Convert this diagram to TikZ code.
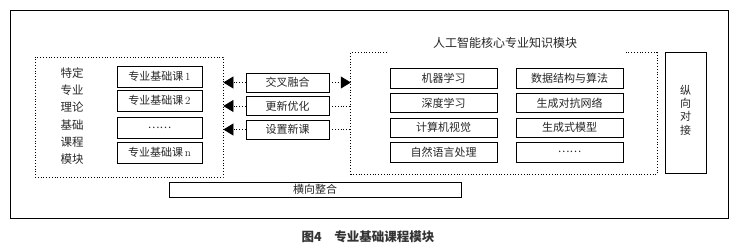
\documentclass[tikz,border=0pt]{standalone}
\usepackage{fontspec}
\newfontfamily\cjk{Noto Sans CJK SC}
\usetikzlibrary{arrows.meta}
\begin{document}
\begin{tikzpicture}[x=1pt,y=-1pt,
  box/.style={draw=black,line width=0.7pt,inner sep=0pt,font=\cjk\fontsize{11}{12}\selectfont,text=black!85},
  dotbox/.style={draw=black,dotted,line width=0.8pt,inner sep=0pt},
  lbl/.style={inner sep=0pt,text=black!85},
  conn/.style={dotted,line width=0.8pt},
  tip/.style={-{Triangle[length=10pt,width=12pt]}}]
\useasboundingbox (0,0) rectangle (736,249);
% outer frame
\node[draw=black,line width=0.8pt,minimum width=718,minimum height=208,inner sep=0pt] (frame) at (369,114) {};
% left module
\node[dotbox,minimum width=188,minimum height=120] (lbox) at (129,117) {};
\node[lbl,align=center,font=\cjk\fontsize{11.5}{17.2}\selectfont] (ltext) at (72,116) {特定\\专业\\理论\\基础\\课程\\模块};
\node[box,minimum width=85,minimum height=21] (c1) at (159.5,76.5) {专业基础课\,\rmfamily 1};
\node[box,minimum width=85,minimum height=21] (c2) at (159.5,100.5) {专业基础课\,\rmfamily 2};
\node[box,minimum width=85,minimum height=21] (c3) at (159.5,127.5) {……};
\node[box,minimum width=85,minimum height=21] (c4) at (159.5,152.5) {专业基础课\,\rmfamily n};
% middle
\node[box,minimum width=83,minimum height=19] (m1) at (287.5,82.5) {交叉融合};
\node[box,minimum width=83,minimum height=19] (m2) at (287.5,106) {更新优化};
\node[box,minimum width=83,minimum height=19] (m3) at (287.5,129.5) {设置新课};
% right module
\node[inner sep=0pt,minimum width=306,minimum height=121] (rbox) at (504,113.5) {};
\draw[conn] ([xshift=36]rbox.north west) -- (rbox.north west) -- (rbox.south west) -- (rbox.south east) -- (rbox.north east) -- ([xshift=-32]rbox.north east);
\node[lbl,font=\cjk\fontsize{12}{14}\selectfont] (rtitle) at (505,43) {人工智能核心专业知识模块};
\node[box,minimum width=107,minimum height=20] (k1) at (443.5,78) {机器学习};
\node[box,minimum width=107,minimum height=19] (k2) at (443.5,103) {深度学习};
\node[box,minimum width=107,minimum height=19] (k3) at (443.5,127.5) {计算机视觉};
\node[box,minimum width=107,minimum height=20] (k4) at (443.5,152) {自然语言处理};
\node[box,minimum width=107,minimum height=20] (k5) at (569.5,78) {数据结构与算法};
\node[box,minimum width=107,minimum height=19] (k6) at (569.5,103) {生成对抗网络};
\node[box,minimum width=107,minimum height=19] (k7) at (569.5,127.5) {生成式模型};
\node[box,minimum width=107,minimum height=20] (k8) at (569.5,152) {……};
% vertical
\node[box,minimum width=41,minimum height=121] (vbox) at (685.5,112.5) {};
\node[lbl,align=center,font=\cjk\fontsize{11}{13.3}\selectfont] (vtext) at (685.5,110) {纵\\向\\对\\接};
% horizontal
\node[box,minimum width=292,minimum height=15] (hbox) at (315,189.5) {横向整合};
% connectors
\draw[conn,tip] (m1.west) -- (m1.west -| lbox.east);
\draw[conn,tip] (m2.west) -- (m2.west -| lbox.east);
\draw[conn,tip] (m3.west) -- (m3.west -| lbox.east);
\draw[conn,tip] (m1.east) -- (m1.east -| rbox.west);
\draw[conn] (m2.east) -- (m2.east -| rbox.west);
\draw[conn] (m3.east) -- (m3.east -| rbox.west);
% caption
\node[lbl,font=\cjk\bfseries\fontsize{12.5}{14}\selectfont,text=black!80] (cap) at (368,237) {图4\quad 专业基础课程模块};
\end{tikzpicture}
\end{document}
